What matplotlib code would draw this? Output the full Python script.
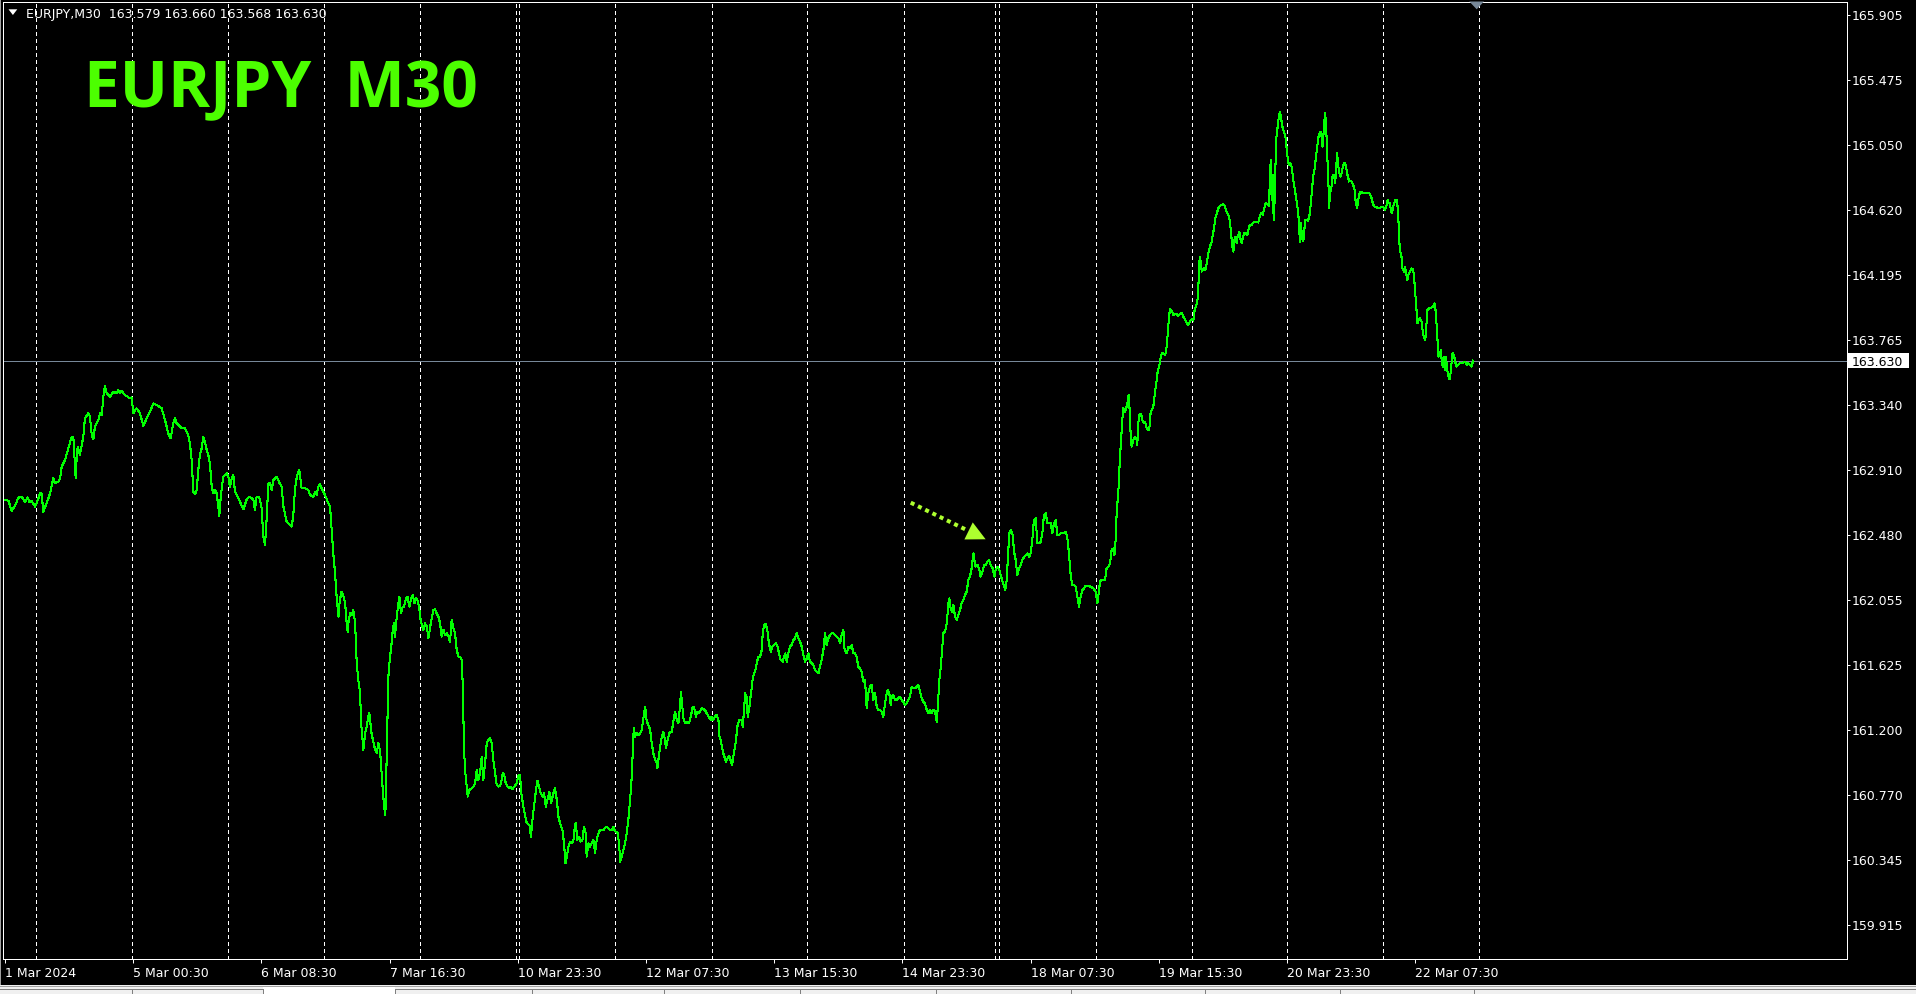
import matplotlib
matplotlib.use("Agg")
import matplotlib.pyplot as plt
from matplotlib.patches import Rectangle, Polygon
from matplotlib.lines import Line2D
from matplotlib.transforms import IdentityTransform
import numpy as np

# ---------------- data ----------------
symbol = "EURJPY"
timeframe = "M30"
header_ohlc = [163.579, 163.660, 163.568, 163.630]
last_close = 163.630

ytick_values = [165.905, 165.475, 165.050, 164.620, 164.195, 163.765, 163.340,
                162.910, 162.480, 162.055, 161.625, 161.200, 160.770, 160.345, 159.915]
xtick_bars = [0, 64, 128, 192, 256, 320, 384, 448, 512, 576, 640, 704]
xtick_labels = ["1 Mar 2024", "5 Mar 00:30", "6 Mar 08:30", "7 Mar 16:30", "10 Mar 23:30",
                "12 Mar 07:30", "13 Mar 15:30", "14 Mar 23:30", "18 Mar 07:30",
                "19 Mar 15:30", "20 Mar 23:30", "22 Mar 07:30"]
day_breaks = [15.3, 63.3, 111.2, 159.1, 207.0, 255.0, 256.8, 304.8, 352.8, 400.6,
              448.6, 494.4, 496.4, 544.5, 592.4, 640.3, 688.2, 736.1]
arrow_start = (452.2, 162.695)
arrow_end = (489.6, 162.454)

# close prices (bar index, price)
mar01_06 = [(0.0,162.713),(1.7,162.708),(3.3,162.642),(5.0,162.675),(6.7,162.728),(8.3,162.734),(10.0,162.701),(11.3,162.730),(12.1,162.701),(13.3,162.706),(15.0,162.669),(15.8,162.691),(17.5,162.756),(18.3,162.756),(19.1,162.636),(20.8,162.691),(22.5,162.756),(24.1,162.855),(25.0,162.822),(26.6,162.833),(27.5,162.855),(28.3,162.932),(30.0,162.976),(31.6,163.053),(33.3,163.129),(34.1,163.129),(35.0,162.921),(35.3,162.855),(35.8,162.998),(36.3,163.064),(37.4,163.009),(39.1,163.129),(39.9,163.250),(41.6,163.283),(42.4,163.261),(43.3,163.140),(44.1,163.112),(44.9,163.195),(46.6,163.239),(47.4,163.283),(48.3,163.272),(49.1,163.393),(49.9,163.463),(50.8,163.415),(52.4,163.393),(54.1,163.426),(55.7,163.415),(56.6,163.437),(57.4,163.415),(58.2,163.430),(59.9,163.404),(62.4,163.382),(63.2,163.388),(64.1,163.283),(64.9,163.305),(65.7,163.316),(67.4,163.283),(69.1,163.200),(70.7,163.250),(72.4,163.294),(74.1,163.349),(75.7,163.338),(78.2,163.316),(79.9,163.239),(81.5,163.151),(82.7,163.118),(84.0,163.217),(84.9,163.250),(85.7,163.217),(88.2,163.184),(89.9,163.184),(91.5,163.140),(92.4,163.075),(93.2,162.976),(94.0,162.767),(94.9,162.752),(95.7,162.778),(96.5,162.910),(97.3,163.009),(98.2,163.053),(99.0,163.125),(99.8,163.096),(100.7,163.042),(101.5,163.009),(102.3,162.954),(103.2,162.800),(104.0,162.756),(104.8,162.778),(105.7,162.756),(106.5,162.669),(107.0,162.607),(107.7,162.734),(108.2,162.789),(109.0,162.866),(109.8,162.877),(110.7,162.888),(111.5,162.866),(112.3,162.800),(113.2,162.855),(114.0,162.877),(114.8,162.767),(115.7,162.745),(117.3,162.701),(119.0,162.651),(120.6,162.713),(121.5,162.730),(122.6,162.730),(124.0,162.713),(124.8,162.647),(125.6,162.734),(126.5,162.734),(127.3,162.717),(128.1,162.658),(129.0,162.471),(129.8,162.416),(130.6,162.581),(131.5,162.822),(132.3,162.822),(133.1,162.778),(134.0,162.844),(134.8,162.855),(135.6,162.866),(137.3,162.818),(138.1,162.800),(139.0,162.669),(140.6,162.570),(141.5,162.559),(142.3,162.548),(143.1,162.537),(143.9,162.603),(144.8,162.789),(145.6,162.855),(146.4,162.899),(146.9,162.910),(148.1,162.789),(149.8,162.789),(151.4,162.778),(152.3,162.745),(153.9,162.734),(154.8,162.767),(155.6,162.745),(156.4,162.800),(157.3,162.816),(158.1,162.789),(158.9,162.767),(159.8,162.745),(161.4,162.691),(162.3,162.669),(163.1,162.515),(163.9,162.361)]

mar06_11 = [(164.8,162.230),(165.3,162.121),(166.0,162.011),(166.5,161.945),(167.0,162.033),(167.8,162.099),(168.1,162.110),(169.0,162.077),(169.8,162.033),(170.6,161.901),(171.1,161.846),(171.4,161.901),(172.3,161.967),(173.1,161.956),(173.9,161.989),(174.8,161.901),(175.6,161.638),(176.4,161.528),(177.3,161.440),(177.8,161.243),(178.6,161.122),(178.9,161.067),(179.8,161.177),(180.6,161.221),(181.4,161.287),(181.9,161.313),(182.6,161.221),(183.1,161.166),(183.9,161.122),(184.8,161.067),(185.6,161.045),(186.4,161.111),(187.3,161.056),(187.8,160.958),(188.6,160.804),(189.3,160.694),(189.9,160.640),(190.6,161.045),(191.4,161.550),(192.2,161.682),(192.7,161.726),(193.6,161.857),(194.2,161.901),(194.7,161.813),(195.6,161.945),(196.4,162.033),(196.9,162.077),(197.7,161.967),(198.6,162.011),(199.2,162.011),(200.2,162.066),(200.9,162.077),(201.9,162.011),(202.6,162.055),(203.6,162.088),(204.4,162.033),(205.2,162.066),(205.9,162.055),(206.7,162.011),(207.6,161.912),(208.9,161.857),(209.7,161.901),(210.6,161.879),(211.4,161.802),(212.2,161.868),(212.7,161.912),(213.9,161.989),(214.7,161.993),(215.5,161.967),(216.4,161.945),(217.2,161.901),(218.0,161.813),(218.9,161.857),(219.7,161.824),(220.5,161.835),(221.4,161.813),(222.2,161.780),(223.0,161.923),(223.9,161.868),(224.7,161.835),(225.5,161.726),(226.4,161.682),(227.2,161.682),(228.0,161.660),(228.5,161.506),(228.9,161.265),(229.2,161.067),(229.7,160.936),(230.5,160.826),(231.0,160.760),(231.9,160.804),(233.0,160.815),(233.9,160.826),(234.7,160.848),(235.5,160.936),(236.3,160.870),(237.2,160.914),(238.0,161.023),(238.8,160.870),(239.7,160.980),(240.5,161.111),(241.3,161.133),(242.2,161.144),(243.0,161.111),(243.8,161.001),(244.7,160.914),(245.5,160.837),(246.3,160.826),(247.2,160.833),(248.0,160.870),(248.5,160.914),(249.2,160.903),(250.0,160.848),(250.8,160.826),(251.7,160.815),(252.5,160.826),(253.3,160.808),(254.3,160.826),(255.5,160.848),(256.3,160.896),(257.1,160.903),(257.8,160.782),(258.8,160.694),(259.6,160.640),(260.5,160.585),(261.8,160.574),(262.6,160.497),(263.5,160.629),(264.1,160.694),(265.1,160.804),(265.8,160.865),(266.6,160.826),(267.5,160.782),(268.5,160.760),(269.1,160.782),(270.0,160.694),(270.8,160.738),(271.8,160.793),(272.6,160.716),(273.8,160.782),(274.6,160.815),(275.5,160.738),(276.3,160.629),(277.1,160.585),(278.3,160.541),(279.1,160.453),(279.8,160.321),(280.5,160.365),(281.3,160.431),(282.1,160.464),(283.0,160.453),(283.8,160.475),(284.3,160.541),(284.9,160.585),(285.8,160.475),(286.6,160.497),(287.4,160.464),(288.3,160.475),(289.1,160.563),(289.9,160.519),(290.4,160.365),(291.3,160.453),(292.1,160.431),(292.9,160.453),(293.8,160.475),(294.6,160.387),(295.4,160.475),(296.3,160.519),(297.1,160.541),(298.8,160.541),(300.1,160.563),(301.2,160.552),(302.1,160.541),(302.9,160.541),(303.7,160.563),(304.6,160.530),(305.7,160.530),(306.6,160.453),(307.1,160.332),(307.9,160.365),(308.7,160.409),(309.6,160.453),(310.4,160.519),(311.2,160.607),(312.1,160.738),(312.9,160.892),(313.4,161.045),(313.9,161.210),(314.6,161.155),(315.4,161.177),(316.2,161.166),(317.1,161.177),(317.9,161.199),(318.7,161.276),(319.6,161.353),(320.4,161.254),(321.2,161.232),(322.1,161.199),(322.9,161.111),(323.7,161.045),(324.6,161.001),(325.4,160.980),(325.7,160.947),(326.2,161.001),(327.1,161.089),(327.9,161.155),(328.7,161.188),(329.5,161.133),(330.0,161.078),(331.2,161.155),(332.0,161.188),(332.9,161.188),(333.7,161.254),(334.5,161.320),(335.4,161.265),(336.2,161.243),(337.0,161.353),(337.5,161.451),(338.2,161.353),(338.7,161.276),(339.5,161.243),(340.4,161.254),(341.5,161.243),(342.4,161.287),(343.4,161.353),(344.0,161.353),(344.9,161.287),(345.7,161.320),(346.5,161.309),(347.8,161.342),(348.7,161.335),(349.5,161.331),(350.3,161.309),(351.2,161.287),(352.3,161.265),(352.8,161.287),(353.7,161.265),(354.5,161.287),(355.3,161.298),(356.2,161.265),(356.7,161.155)]

mar12_18 = [(357.3,161.133),(358.5,161.050),(360.0,160.990),(361.5,161.030),(363.0,160.970),(364.0,161.050),(365.0,161.133),(365.6,161.220),(366.6,161.264),(367.8,161.264),(368.3,161.220),(369.0,161.330),(369.5,161.440),(370.3,161.418),(370.8,161.286),(371.5,161.330),(372.0,161.396),(372.8,161.473),(373.3,161.539),(374.0,161.571),(374.5,161.582),(375.3,161.637),(376.1,161.681),(377.0,161.681),(377.8,161.725),(378.3,161.835),(379.0,161.890),(379.8,161.896),(380.6,161.857),(381.4,161.769),(382.3,161.714),(383.1,161.747),(383.9,161.758),(384.9,161.769),(385.8,161.747),(386.4,161.703),(387.3,161.659),(388.3,161.648),(388.9,161.681),(389.6,161.703),(390.3,161.648),(391.1,161.703),(391.9,161.747),(392.8,161.758),(393.6,161.791),(394.4,161.802),(395.3,161.835),(396.1,161.802),(396.9,161.780),(397.8,161.747),(398.6,161.692),(399.4,161.648),(400.3,161.670),(401.1,161.703),(401.9,161.648),(402.8,161.637),(403.6,161.626),(404.4,161.593),(405.2,161.582),(406.1,161.571),(406.9,161.615),(407.7,161.659),(408.6,161.725),(409.4,161.835),(410.2,161.758),(411.1,161.802),(411.9,161.824),(412.7,161.835),(413.6,161.835),(414.4,161.824),(415.2,161.813),(416.1,161.802),(416.9,161.769),(417.7,161.824),(418.6,161.857),(418.9,161.747),(419.4,161.725),(420.2,161.703),(421.1,161.747),(421.9,161.736),(422.7,161.758),(423.6,161.703),(424.4,161.703),(425.2,161.681),(426.0,161.615),(426.9,161.604),(427.7,161.582),(428.5,161.517),(429.4,161.528),(430.2,161.341),(431.0,161.440),(431.9,161.484),(432.7,161.495),(433.5,161.396),(434.4,161.440),(435.2,161.352),(436.0,161.330),(436.9,161.330),(437.7,161.319),(438.5,161.286),(439.4,161.374),(440.2,161.440),(440.7,161.462),(441.5,161.440),(442.2,161.363),(442.7,161.418),(443.5,161.429),(444.4,161.396),(445.2,161.396),(446.0,161.407),(446.8,161.418),(447.7,161.396),(448.5,161.385),(449.3,161.363),(450.2,161.374),(451.0,161.396),(451.8,161.418),(452.7,161.484),(453.5,161.473),(454.3,161.473),(455.2,161.484),(456.0,161.495),(456.8,161.451),(457.7,161.407),(458.5,161.385),(459.3,161.374),(460.2,161.330),(461.0,161.308),(461.8,161.330),(462.7,161.308),(463.5,161.330),(464.3,161.319),(465.2,161.253),(465.5,161.308),(466.0,161.418),(466.5,161.528),(467.2,161.615),(468.0,161.747),(468.5,161.835),(469.3,161.846),(470.2,161.901),(471.0,162.032),(471.5,162.065),(472.1,161.999),(472.8,161.977),(473.5,162.021),(474.3,161.944),(475.1,161.923),(476.0,161.955),(476.8,161.988),(477.6,162.032),(478.5,162.054),(479.3,162.087),(480.1,162.109),(481.0,162.186),(481.8,162.208),(482.6,162.263),(483.5,162.361),(484.0,162.317),(484.6,162.274),(485.5,162.285),(486.3,162.263),(487.1,162.208),(488.0,162.241),(488.8,162.285),(489.6,162.285),(490.5,162.306),(491.3,162.317),(492.1,162.285),(493.1,162.263),(494.0,162.208),(494.6,162.252),(495.4,162.274),(496.4,162.252),(497.3,162.208),(498.1,162.175),(498.9,162.142),(499.4,162.120),(500.1,162.186),(500.9,162.372),(501.4,162.493),(502.3,162.515),(503.1,162.482),(503.8,162.372),(504.6,162.317),(505.4,162.219),(506.3,162.263),(507.1,162.285),(507.9,162.317),(508.8,162.339),(509.6,162.350),(510.4,162.361),(511.3,162.339),(512.1,162.361),(512.9,162.449),(513.7,162.581),(514.6,162.592),(515.4,162.427),(516.2,162.427),(517.1,162.438),(517.9,162.493),(518.7,162.614),(519.6,162.625),(520.4,162.559),(521.2,162.559),(522.1,162.559),(522.9,162.493),(523.7,162.559),(524.6,162.581),(525.4,162.482),(526.2,162.482),(527.1,162.493),(528.4,162.493),(529.6,162.504),(530.4,162.460),(531.2,162.361),(532.1,162.208),(532.9,162.153),(533.7,162.153),(534.6,162.142),(535.4,162.076),(536.2,162.010),(537.0,162.076),(537.9,162.120),(538.7,162.131),(539.5,162.146),(540.9,162.146),(542.0,162.142),(543.4,162.131),(544.5,162.109),(545.4,162.032),(545.9,162.087),(546.7,162.175),(547.5,162.186),(548.4,162.186),(549.2,162.186),(550.0,162.263),(550.9,162.274),(551.7,162.296),(552.5,162.383),(553.4,162.394),(553.9,162.350),(554.5,162.449),(555.0,162.625),(555.9,162.778)]

mar19_20 = [(556.2,162.867),(556.7,162.998),(557.2,163.108),(557.9,163.251),(558.3,163.316),(559.2,163.294),(560.0,163.327),(560.5,163.360),(561.0,163.404),(561.3,163.360),(561.7,163.240),(562.0,163.141),(562.5,163.064),(563.3,163.108),(564.2,163.130),(565.0,163.108),(565.3,163.075),(565.8,163.218),(566.3,163.273),(567.2,163.279),(567.8,163.240),(568.5,163.218),(569.2,163.229),(570.0,163.185),(570.8,163.174),(571.3,163.174),(571.8,163.273),(572.5,163.305),(573.3,163.327),(573.8,163.382),(574.3,163.437),(575.0,163.503),(575.5,163.558),(576.2,163.591),(576.7,163.624),(577.2,163.668),(577.8,163.679),(578.7,163.674),(579.3,163.668),(580.0,163.722),(580.5,163.810),(581.1,163.909),(581.6,163.968),(582.5,163.959),(583.3,163.931),(584.1,163.937),(585.0,163.935),(585.8,163.924),(586.6,163.937),(587.5,163.942),(588.3,163.920),(589.1,163.904),(590.0,163.876),(590.8,163.865),(591.6,163.887),(592.1,163.898),(592.8,163.902),(593.3,163.894),(593.8,163.953),(594.5,163.986),(595.3,164.019),(595.8,164.106),(596.1,164.249),(596.6,164.315),(597.1,164.271),(597.5,164.216),(598.0,164.227),(598.6,164.238),(599.3,164.227),(600.0,164.271),(600.8,164.337),(601.6,164.381),(602.5,164.413),(603.0,164.457),(603.6,164.501),(604.3,164.567),(605.0,164.600),(605.8,164.633),(606.6,164.648),(607.4,164.655),(608.3,164.661),(609.1,164.644),(609.9,164.611),(610.8,164.589),(611.6,164.545),(612.1,164.468),(612.8,164.381),(613.3,164.348),(613.8,164.424),(614.4,164.446),(614.9,164.403),(615.4,164.446),(616.3,164.479),(616.9,164.424),(617.4,164.403),(617.9,164.435),(618.6,164.468),(619.4,164.468),(620.3,164.457),(621.1,164.512),(621.6,164.523),(622.4,164.523),(623.3,164.539),(624.1,164.545),(624.9,164.545),(625.7,164.539),(626.6,164.589),(627.2,164.600),(627.9,164.589),(628.7,164.633),(629.4,164.666),(630.2,164.661),(630.9,164.648),(631.6,164.819),(631.9,164.951),(632.4,164.688),(632.9,164.852),(633.4,164.556),(633.9,164.688),(634.6,165.083),(635.4,165.170),(636.1,165.247),(636.6,165.269),(637.1,165.225),(637.9,165.160),(638.6,165.138),(639.4,165.094),(640.2,164.984),(640.9,164.918),(641.6,164.929),(642.4,164.907),(643.2,164.819),(644.1,164.743),(644.9,164.677),(645.7,164.600),(646.2,164.479),(646.6,164.413)]

mar20_22 = [(647.0,164.534),(647.5,164.447),(648.1,164.414),(648.6,164.447),(649.0,164.556),(649.8,164.556),(650.6,164.552),(651.5,164.600),(652.0,164.677),(652.5,164.743),(653.1,164.842),(654.0,164.903),(654.5,164.973),(655.1,165.028),(655.6,165.094),(656.1,165.116),(656.8,165.138),(657.3,165.105),(657.8,165.039),(658.1,165.083),(658.6,165.193),(659.1,165.258),(659.5,165.193),(659.8,165.105),(660.3,164.940),(660.8,164.776),(661.1,164.633),(661.5,164.732),(662.0,164.754),(662.3,164.776),(662.8,164.842),(663.3,164.853),(663.8,164.831),(664.1,164.798),(664.8,164.940),(665.1,164.995),(665.6,164.918),(666.1,164.874),(666.6,164.842),(667.1,164.853),(667.8,164.896),(668.5,164.929),(669.1,164.934),(669.8,164.885),(670.4,164.842),(671.1,164.809),(671.8,164.815),(672.4,164.809),(673.1,164.787),(673.8,164.754),(674.4,164.666),(675.1,164.633),(675.6,164.688),(676.1,164.721),(676.8,164.743),(678.1,164.732),(679.4,164.732),(680.8,164.736),(681.4,164.727),(682.3,164.699),(683.1,164.655),(683.9,164.644),(684.8,164.640),(685.6,164.633),(686.4,164.633),(687.3,164.644),(688.1,164.644),(688.9,164.622),(689.8,164.655),(690.3,164.688),(690.9,164.666),(691.4,164.666),(691.9,164.622),(692.4,164.600),(693.1,164.644),(693.6,164.666),(694.1,164.688),(694.9,164.688),(695.6,164.600),(695.9,164.469),(696.4,164.359),(697.2,164.315),(697.7,164.238),(698.4,164.216),(698.9,164.249),(699.4,164.216),(700.1,164.161),(700.7,164.194),(701.4,164.216),(702.2,164.238),(703.1,164.227),(703.6,164.161),(704.1,164.074),(704.7,163.964),(705.2,163.876),(705.7,163.898),(706.4,163.909),(707.2,163.887),(708.1,163.799),(708.6,163.777),(709.1,163.766),(709.7,163.876),(710.2,163.964),(711.1,163.975),(712.2,163.979),(713.1,163.986),(713.7,164.008),(714.2,163.964),(714.7,163.876),(715.2,163.766),(715.7,163.657),(716.4,163.679),(716.9,163.701),(717.4,163.613),(717.9,163.591),(718.4,163.657),(718.9,163.569),(719.4,163.657),(719.7,163.613),(720.2,163.558),(720.7,163.525),(721.2,163.508),(721.7,163.547),(722.2,163.613),(722.7,163.679),(723.4,163.668),(724.0,163.624),(724.7,163.591),(725.5,163.602),(726.4,163.613),(727.7,163.613),(728.9,163.624),(729.7,163.602),(730.5,163.613),(731.4,163.602),(732.2,163.591),(733.0,163.630)]

# ---------------- drawing ----------------
W, H = 1916, 994
plt.rcParams["font.family"] = ["DejaVu Sans"]

def fx(px):
    return px / W

def fy(py):
    return 1 - py / H

fig = plt.figure(figsize=(W / 100, H / 100), dpi=100, facecolor="black")
ax = fig.add_axes([fx(3), fy(959), fx(1846.7) - fx(3), fy(1.5) - fy(959)])
ax.set_facecolor("black")
ax.set_xlim(-1.0, 919.5)
ax.set_ylim(159.691, 165.994)

for s in ax.spines.values():
    s.set_color("white")
    s.set_linewidth(0.72)

# day separators
for b in day_breaks:
    ax.axvline(b, color="white", lw=0.72, linestyle=(0, (4, 3)), antialiased=False, zorder=1)

# current price line
ax.axhline(last_close, color="#778899", lw=0.72, antialiased=False, zorder=2)

# price series
pts = mar01_06 + mar06_11 + mar12_18 + mar19_20 + mar20_22
bars = np.array([p[0] for p in pts])
closes = np.array([p[1] for p in pts])
ax.plot(bars, closes, color="#00FF00", lw=0.75, antialiased=False, zorder=3)

# axes ticks
ax.yaxis.tick_right()
ax.set_yticks(ytick_values)
ax.set_yticklabels([f"{v:.3f}" for v in ytick_values])
ax.set_xticks(xtick_bars)
ax.set_xticklabels(xtick_labels)
for t in ax.get_xticklabels():
    t.set_horizontalalignment("left")
ax.tick_params(axis="y", which="both", right=True, left=False, direction="out",
               length=2.4, width=0.72, color="white", pad=1.2,
               labelsize=9, labelcolor="white")
ax.tick_params(axis="x", which="both", bottom=True, top=False, direction="out",
               length=2.9, width=0.72, color="white", pad=3.0,
               labelsize=9, labelcolor="white")

# arrow (dotted line with triangular head)
arrow_color = "#ADFF2F"
p0 = ax.transData.transform(arrow_start)
p1 = ax.transData.transform(arrow_end)
u = (p1 - p0) / np.hypot(*(p1 - p0))
nrm = np.array([-u[1], u[0]])
base = p1 - 19 * u
fig.add_artist(Line2D([p0[0], base[0] - u[0]], [p0[1], base[1] - u[1]],
                      transform=IdentityTransform(), color=arrow_color, lw=2.9,
                      linestyle=(0, (1, 1)), solid_capstyle="butt"))
fig.add_artist(Polygon([p1, base + 9.5 * nrm, base - 9.5 * nrm], closed=True,
                       transform=IdentityTransform(), facecolor=arrow_color,
                       edgecolor="none"))

# price label box on axis
py = ax.transData.transform((0, last_close))[1]
fig.add_artist(Rectangle((1848, py - 7.8), 61.3, 15.6, transform=IdentityTransform(),
                         facecolor="white", edgecolor="none"))
fig.text(1852.0, py, f"{last_close:.3f}", transform=IdentityTransform(), color="black",
         fontsize=9, va="center_baseline", ha="left")

# header
fig.add_artist(Polygon([(fx(8.5), fy(9.3)), (fx(17.3), fy(9.3)), (fx(12.9), fy(15))],
                       closed=True, transform=fig.transFigure, facecolor="white",
                       edgecolor="none"))
fig.text(fx(26.5), fy(17.7), f"{symbol},{timeframe}  " + " ".join(f"{v:.3f}" for v in header_ohlc),
         color="white", fontsize=9, va="baseline", ha="left")

# big title
fig.text(fx(84), fy(107), f"{symbol}  {timeframe}", family="Open Sans", fontweight="bold",
         fontsize=46, color="#4CFF00", va="baseline", ha="left")

# chart shift marker
fig.add_artist(Polygon([(fx(1469.3), fy(1.5)), (fx(1484.0), fy(1.5)), (fx(1476.7), fy(9.3))],
                       closed=True, transform=fig.transFigure, facecolor="#778899",
                       edgecolor="none"))

# window left edge
fig.add_artist(Rectangle((0, fy(985)), fx(1.2), fy(0) - fy(985), transform=fig.transFigure,
                         facecolor="#A0A0A0", edgecolor="none"))

# bottom tab bar
fig.add_artist(Rectangle((0, 0), 1, fy(985), transform=fig.transFigure,
                         facecolor="#F0F0F0", edgecolor="none"))
fig.add_artist(Line2D([0, 1], [fy(985.5), fy(985.5)], transform=fig.transFigure,
                      color="#A0A0A0", lw=0.72))
fig.add_artist(Rectangle((fx(263), 0), fx(395) - fx(263), fy(985.5), transform=fig.transFigure,
                         facecolor="white", edgecolor="none"))
fig.add_artist(Line2D([0, fx(263)], [fy(988.5), fy(988.5)], transform=fig.transFigure,
                      color="#808080", lw=0.72))
fig.add_artist(Line2D([fx(395), 1], [fy(988.5), fy(988.5)], transform=fig.transFigure,
                      color="#808080", lw=0.72))
for tx in [132, 263, 395, 532, 664, 800, 936, 1071, 1205, 1340, 1474]:
    fig.add_artist(Line2D([fx(tx), fx(tx)], [0, fy(988.5)], transform=fig.transFigure,
                          color="#808080", lw=0.72))

fig.savefig("out.png", dpi=100, facecolor="black")
